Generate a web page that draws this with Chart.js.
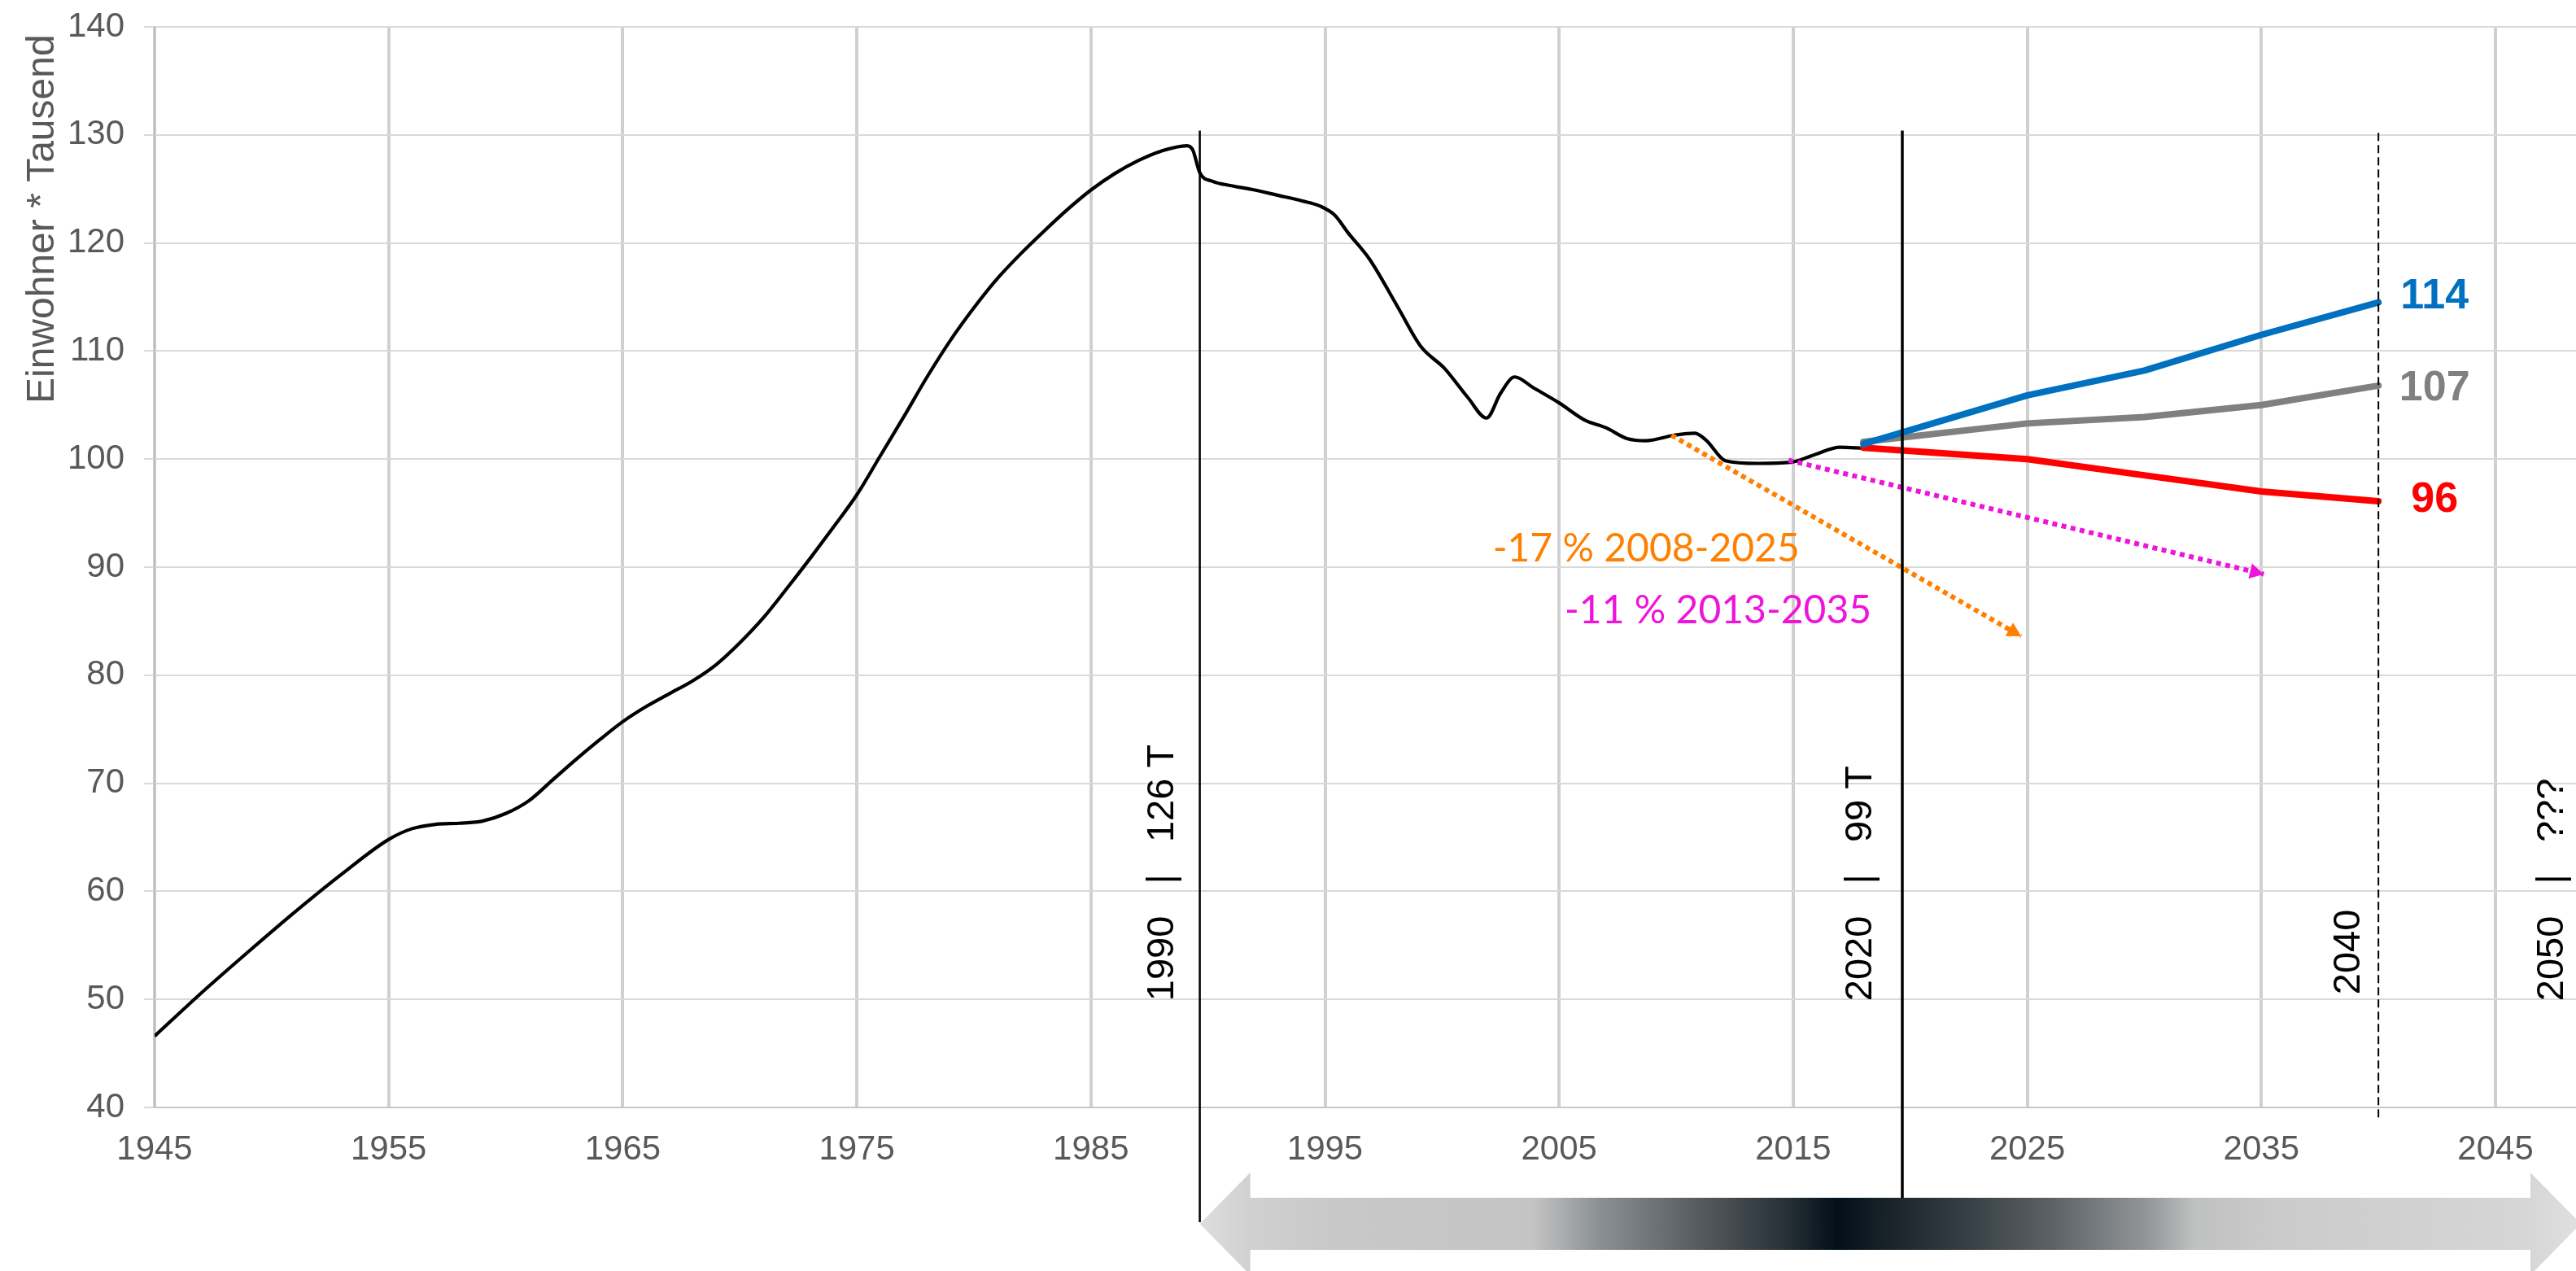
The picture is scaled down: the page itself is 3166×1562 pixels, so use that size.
<!DOCTYPE html>
<html><head><meta charset="utf-8">
<script src="https://cdn.jsdelivr.net/npm/chart.js@4.4.1/dist/chart.umd.min.js"></script>
<style>html,body{margin:0;padding:0;background:#fff;}#wrap{width:3166px;height:1562px;position:relative;}</style>
</head><body><div id="wrap"><canvas id="c"></canvas></div>
<script>
// ---------- data ----------
const xTickValues = [1945,1955,1965,1975,1985,1995,2005,2015,2025,2035,2045];
const yMin = 40, yMax = 140, yStep = 10;
const xMin = 1945, xMax = 2048.44;

const histYears  = [1945,1947,1949,1951,1953,1955,1956,1957,1958,1959,1960,1961,1962,1963,1964,1965,1966,1967,1968,1969,1970,1971,1972,1973,1974,1975,1976,1977,1978,1979,1980,1981,1982,1983,1984,1985,1986,1987,1988,1989.1,1989.35,1989.65,1990.2,1991,1992,1993,1994,1994.8,1995.4,1996,1996.9,1998.1,1999.1,2000.1,2001.1,2001.9,2002.5,2003.1,2003.9,2005,2006.1,2007,2007.9,2008.7,2009.9,2010.8,2011.3,2012.1,2013.5,2014.9,2015.9,2017,2018];
const histValues = [46.6,50.6,54.4,58.1,61.6,64.8,65.8,66.2,66.3,66.5,67.2,68.4,70.3,72.2,74.0,75.7,77.1,78.3,79.5,81.0,83.0,85.3,88.0,90.8,93.7,96.7,100.3,103.9,107.6,111.0,114.0,116.7,119.0,121.1,123.1,124.9,126.4,127.6,128.5,129.0,128.6,126.5,125.7,125.3,124.9,124.4,123.9,123.4,122.6,120.9,118.5,114.1,110.4,108.4,105.7,103.8,106.1,107.6,106.6,105.2,103.6,102.9,101.9,101.7,102.2,102.4,101.7,99.85,99.6,99.7,100.4,101.1,101.0];

const projYears = [2018, 2025, 2030, 2035, 2040];
const projHigh  = [101.4, 105.9, 108.2, 111.5, 114.5];
const projMid   = [101.6, 103.3, 103.9, 105.0, 106.8];
const projLow   = [101.05, 100.0, 98.5, 97.0, 96.1];
const endLabels = ['114', '107', '96'];

const trendOrangeYears  = [2009.8, 2024.74];
const trendOrangeValues = [102.2, 83.6];
const trendMagentaYears  = [2014.8, 2035.1];
const trendMagentaValues = [99.9, 89.35];
const trendTexts = ['-17 % 2008-2025', '-11 % 2013-2035'];

const markerYears  = [1989.65, 2019.66, 2040];
const markerLabels = ['1990   |   126 T', '2020   |   99 T', '2040', '2050   |   ???'];
const yTitle = 'Einwohner * Tausend';

// ---------- helpers ----------
const pts = (xs, ys) => xs.map((x, i) => ({x, y: ys[i]}));
const ARIAL = '"Liberation Sans", Arial, sans-serif';
const COL_BLUE = '#0070c0', COL_GRAY = '#808080', COL_RED = '#ff0000';
const COL_OR = '#ff8000', COL_MG = '#ee14dc';

function arrowHead(ctx, x0, y0, x1, y1, len, wid, color) {
  const a = Math.atan2(y1 - y0, x1 - x0);
  ctx.save(); ctx.translate(x1, y1); ctx.rotate(a);
  ctx.beginPath(); ctx.moveTo(0, 0); ctx.lineTo(-len, -wid / 2); ctx.lineTo(-len, wid / 2); ctx.closePath();
  ctx.fillStyle = color; ctx.fill(); ctx.restore();
}

const annot = {
  id: 'annot',
  afterDatasetsDraw(chart) {
    const {ctx, scales: {x, y}, chartArea} = chart;
    const X = v => x.getPixelForValue(v), Y = v => y.getPixelForValue(v);

    // trend arrow heads
    arrowHead(ctx, X(trendOrangeYears[0]), Y(trendOrangeValues[0]), X(trendOrangeYears[1]), Y(trendOrangeValues[1]), 17, 19, COL_OR);
    arrowHead(ctx, X(trendMagentaYears[0]), Y(trendMagentaValues[0]), X(trendMagentaYears[1]), Y(trendMagentaValues[1]), 17, 19, COL_MG);

    // bottom gradient double arrow
    const axL = X(markerYears[0]), axR = chartArea.right + 6, cy = 1504;
    const sh = 32, hh = 63, hl = 62;
    const g = ctx.createLinearGradient(axL, 0, axR, 0);
    const stops = [[0,'#dedede'],[0.037,'#d0d0d0'],[0.1,'#c8c8c8'],[0.241,'#c4c4c4'],[0.288,'#8c9194'],[0.354,'#5a6166'],[0.421,'#2a3339'],[0.461,'#03101a'],[0.507,'#1d272d'],[0.553,'#353e44'],[0.62,'#5d6468'],[0.686,'#939699'],[0.72,'#bfc0c0'],[0.78,'#cbcbcb'],[0.963,'#d6d6d6'],[1,'#e0e0e0']];
    stops.forEach(s => g.addColorStop(s[0], s[1]));
    ctx.save();
    ctx.beginPath();
    ctx.moveTo(axL, cy);
    ctx.lineTo(axL + hl, cy - hh); ctx.lineTo(axL + hl, cy - sh);
    ctx.lineTo(axR - hl, cy - sh); ctx.lineTo(axR - hl, cy - hh);
    ctx.lineTo(axR, cy);
    ctx.lineTo(axR - hl, cy + hh); ctx.lineTo(axR - hl, cy + sh);
    ctx.lineTo(axL + hl, cy + sh); ctx.lineTo(axL + hl, cy + hh);
    ctx.closePath();
    ctx.fillStyle = g; ctx.fill();
    ctx.restore();

    // marker vertical lines
    ctx.save();
    ctx.strokeStyle = '#000';
    ctx.lineWidth = 2.5;
    ctx.beginPath(); ctx.moveTo(X(markerYears[0]), Y(130.4)); ctx.lineTo(X(markerYears[0]), cy - 2); ctx.stroke();
    ctx.lineWidth = 3.5;
    ctx.beginPath(); ctx.moveTo(X(markerYears[1]), Y(130.4)); ctx.lineTo(X(markerYears[1]), cy - sh); ctx.stroke();
    ctx.lineWidth = 2; ctx.setLineDash([10, 5]);
    ctx.beginPath(); ctx.moveTo(X(markerYears[2]), Y(130.2)); ctx.lineTo(X(markerYears[2]), y.bottom + 15); ctx.stroke();
    ctx.restore();

    // rotated marker labels
    const rot = (txt, bx, by) => {
      ctx.save(); ctx.translate(bx, by); ctx.rotate(-Math.PI / 2);
      ctx.font = '47px ' + ARIAL; ctx.fillStyle = '#000';
      ctx.textAlign = 'left'; ctx.textBaseline = 'alphabetic';
      ctx.fillText(txt, 0, 0); ctx.restore();
    };
    rot(markerLabels[0], X(markerYears[0]) - 33, Y(49.85));
    rot(markerLabels[1], X(markerYears[1]) - 38, Y(49.85));
    rot(markerLabels[2], X(markerYears[2]) - 23, Y(50.45));
    rot(markerLabels[3], X(2047.9), Y(49.85));

    // end labels of projections
    ctx.save();
    ctx.font = 'bold 52px ' + ARIAL; ctx.textAlign = 'center'; ctx.textBaseline = 'middle';
    const ends = [[projHigh, COL_BLUE, -7], [projMid, COL_GRAY, 4], [projLow, COL_RED, -1]];
    ends.forEach((e, i) => {
      ctx.fillStyle = e[1];
      ctx.fillText(endLabels[i], X(projYears[projYears.length - 1]) + 69, Y(e[0][e[0].length - 1]) + e[2]);
    });
    ctx.restore();

    // trend texts
    ctx.save();
    ctx.font = '48px Lato, "Open Sans", sans-serif'; ctx.textAlign = 'center'; ctx.textBaseline = 'alphabetic';
    ctx.fillStyle = COL_OR; ctx.fillText(trendTexts[0], X(2008.72), Y(90.55));
    ctx.fillStyle = COL_MG; ctx.fillText(trendTexts[1], X(2011.79), Y(84.83));
    ctx.restore();

    // y axis title
    ctx.save();
    ctx.translate(66, 496); ctx.rotate(-Math.PI / 2);
    ctx.font = '48px ' + ARIAL; ctx.fillStyle = '#595959';
    ctx.textAlign = 'left'; ctx.textBaseline = 'alphabetic';
    ctx.fillText(yTitle, 0, 0);
    ctx.restore();
  }
};

Chart.defaults.font.family = ARIAL;

new Chart(document.getElementById('c'), {
  type: 'line',
  data: {
    datasets: [
      {label: 'hoch', data: pts(projYears, projHigh), borderColor: COL_BLUE, borderWidth: 8, tension: 0, borderCapStyle: 'round', borderJoinStyle: 'round'},
      {label: 'mittel', data: pts(projYears, projMid), borderColor: COL_GRAY, borderWidth: 8, tension: 0, borderCapStyle: 'round', borderJoinStyle: 'round'},
      {label: 'niedrig', data: pts(projYears, projLow), borderColor: COL_RED, borderWidth: 8, tension: 0, borderCapStyle: 'round', borderJoinStyle: 'round'},
      {label: 'Trend 2008-2025', data: pts(trendOrangeYears, trendOrangeValues), borderColor: COL_OR, borderWidth: 6, borderDash: [6, 5], tension: 0},
      {label: 'Trend 2013-2035', data: pts(trendMagentaYears, trendMagentaValues), borderColor: COL_MG, borderWidth: 6, borderDash: [6, 5.5], tension: 0},
      {label: 'Einwohner', data: pts(histYears, histValues), borderColor: '#000', borderWidth: 4.2, cubicInterpolationMode: 'monotone', borderJoinStyle: 'round'}
    ]
  },
  options: {
    responsive: true, maintainAspectRatio: false, animation: false, devicePixelRatio: 1, events: [],
    layout: {padding: {top: 33, right: 0, bottom: 0, left: 0}},
    elements: {point: {radius: 0}},
    plugins: {legend: {display: false}, tooltip: {enabled: false}, title: {display: false}},
    scales: {
      x: {
        type: 'linear', min: xMin, max: xMax,
        afterBuildTicks: s => { s.ticks = xTickValues.map(v => ({value: v})); },
        afterFit: s => { s.height = 201; s.paddingLeft = 0; s.paddingRight = 0; },
        ticks: {callback: v => String(v), color: '#595959', font: {size: 42}, padding: 27, maxRotation: 0, autoSkip: false},
        grid: {color: '#d0d0d0', lineWidth: 4, drawTicks: false},
        border: {color: '#c8c8c8', width: 2}
      },
      y: {
        type: 'linear', min: yMin, max: yMax,
        afterFit: s => { s.width = 190; s.paddingTop = 0; s.paddingBottom = 0; },
        ticks: {stepSize: yStep, callback: v => String(v), color: '#595959', font: {size: 42}, padding: 24},
        grid: {color: '#d9d9d9', lineWidth: 2, tickLength: 13, drawTicks: true},
        border: {color: '#bfbfbf', width: 2}
      }
    }
  },
  plugins: [annot]
});
</script></body></html>
